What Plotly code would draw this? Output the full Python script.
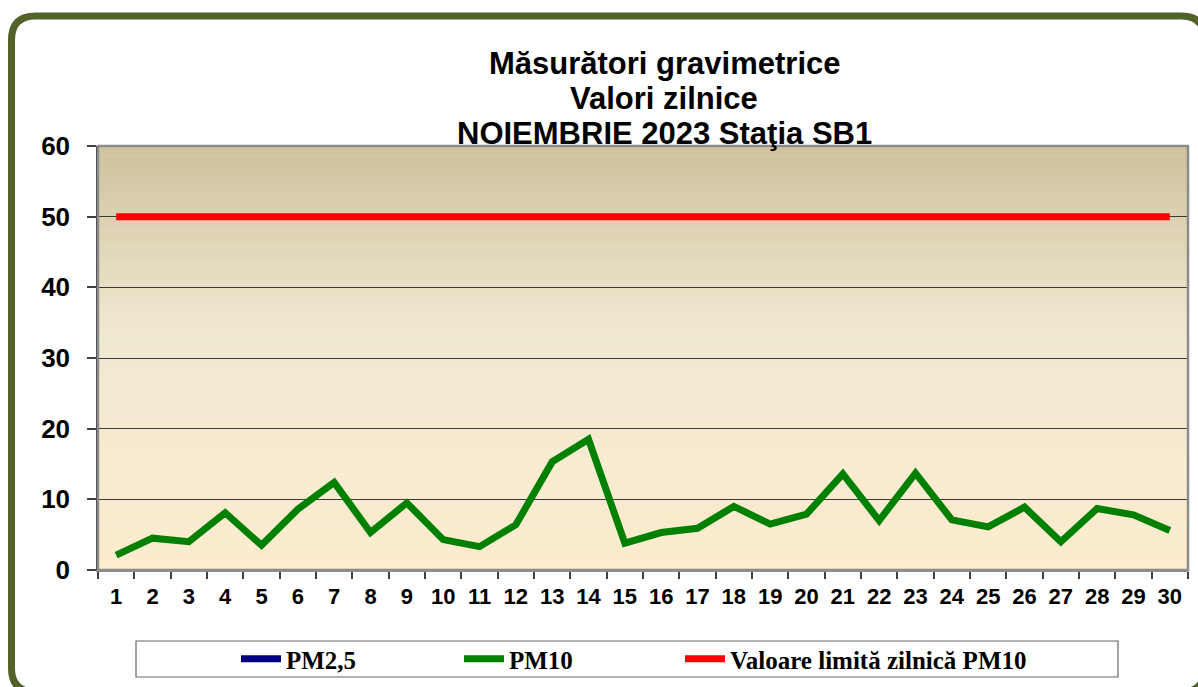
import plotly.graph_objects as go

days = [str(d) for d in range(1, 31)]
pm10 = [2.1, 4.5, 4.0, 8.1, 3.5, 8.6, 12.4, 5.3, 9.5, 4.3,
        3.3, 6.4, 15.3, 18.5, 3.8, 5.3, 5.9, 9.0, 6.5, 7.9,
        13.6, 7.0, 13.7, 7.1, 6.1, 8.9, 4.0, 8.7, 7.8, 5.6]
pm25 = [None] * 30
limit = [50] * 30
title_lines = ["Măsurători gravimetrice", "Valori zilnice", "NOIEMBRIE 2023 Staţia SB1"]
series_names = ["PM2,5", "PM10", "Valoare limită zilnică PM10"]

W, H = 1198, 687
L, R, T, B = 98, 1188, 146, 570


def px(x):
    return (x - L) / (R - L)


def py(y):
    return (B - y) / (B - T)


fig = go.Figure()
fig.add_trace(go.Scatter(x=days, y=pm25, name=series_names[0], mode="lines",
                         line=dict(color="#000080", width=7), showlegend=True, legend="legend"))
fig.add_trace(go.Scatter(x=days, y=pm10, name=series_names[1], mode="lines",
                         line=dict(color="#008000", width=7), legend="legend2"))
fig.add_trace(go.Scatter(x=days, y=limit, name=series_names[2], mode="lines",
                         line=dict(color="#FF0000", width=7), legend="legend3"))

shapes = []
# gradient background bands
stops = [(0.0, (207, 193, 156)), (0.45, (240, 233, 210)), (1.0, (253, 236, 206))]


def col(t):
    for i in range(len(stops) - 1):
        t0, c0 = stops[i]
        t1, c1 = stops[i + 1]
        if t0 <= t <= t1:
            f = (t - t0) / (t1 - t0)
            return "rgb(%d,%d,%d)" % tuple(round(c0[k] + (c1[k] - c0[k]) * f) for k in range(3))
    return "rgb(%d,%d,%d)" % stops[-1][1]


N = 80
for i in range(N):
    t = (i + 0.5) / N
    shapes.append(dict(type="rect", xref="paper", yref="paper", x0=0, x1=1,
                       y0=1 - (i + 1) / N, y1=1 - i / N + 0.001,
                       fillcolor=col(t), line=dict(width=0), layer="below"))
# plot frame
shapes.append(dict(type="rect", xref="paper", yref="paper", x0=0, x1=1, y0=0, y1=1,
                   line=dict(color="#8c8c8c", width=2.5), layer="above"))
# legend box
shapes.append(dict(type="rect", xref="paper", yref="paper",
                   x0=px(136), x1=px(1118), y0=py(677), y1=py(641),
                   fillcolor="white", line=dict(color="#666666", width=1.2)))
# outer rounded border
x0b, x1b, y0b, y1b, r = 11.5, 1205, 16, 692, 24
path = (f"M {px(x0b)},{py(y0b + r)} Q {px(x0b)},{py(y0b)} {px(x0b + r)},{py(y0b)} "
        f"L {px(x1b - r)},{py(y0b)} Q {px(x1b)},{py(y0b)} {px(x1b)},{py(y0b + r)} "
        f"L {px(x1b)},{py(y1b - r)} Q {px(x1b)},{py(y1b)} {px(x1b - r)},{py(y1b)} "
        f"L {px(x0b + r)},{py(y1b)} Q {px(x0b)},{py(y1b)} {px(x0b)},{py(y1b - r)} Z")
shapes.append(dict(type="path", xref="paper", yref="paper", path=path,
                   line=dict(color="#536228", width=7), layer="above"))

annotations = []
for i, txt in enumerate(title_lines):
    annotations.append(dict(text=txt, xref="paper", yref="paper", x=px(664), y=py(63 + 35 * i),
                            xanchor="center", yanchor="middle", showarrow=False,
                            font=dict(family="Liberation Sans", size=31, color="black", weight="bold")))

legend_font = dict(family="Liberation Serif", size=25, color="black", weight="bold")


def leg(xpix):
    return dict(orientation="h", x=px(xpix), y=py(659), xanchor="left", yanchor="middle",
                bgcolor="rgba(0,0,0,0)", borderwidth=0, itemwidth=40, font=legend_font)


fig.update_layout(
    width=W, height=H,
    margin=dict(l=L, r=W - R, t=T, b=H - B, autoexpand=False),
    paper_bgcolor="white", plot_bgcolor="rgba(0,0,0,0)",
    shapes=shapes, annotations=annotations,
    showlegend=True,
    legend=leg(236), legend2=leg(459), legend3=leg(680),
    xaxis=dict(type="category", range=[-0.5, 29.5], showgrid=False, ticks="outside",
               tickson="boundaries", ticklen=7, tickcolor="#404040", tickwidth=1.5,
               showline=True, linecolor="#8c8c8c", linewidth=2, ticklabelstandoff=6,
               automargin=False,
               tickfont=dict(family="Liberation Sans", size=22, color="black", weight="bold"),
               fixedrange=True),
    yaxis=dict(range=[0, 60], dtick=10, showgrid=True, gridcolor="#3a3a3a", gridwidth=1,
               ticks="outside", ticklen=9, tickcolor="#404040", tickwidth=1.5,
               showline=True, linecolor="#404040", linewidth=1.5, zeroline=False,
               ticklabelstandoff=12, automargin=False,
               tickfont=dict(family="Liberation Sans", size=26, color="black", weight="bold"),
               fixedrange=True),
)

fig.write_html("out.html", config={"displayModeBar": False},
               post_script="document.body.style.margin='0';document.body.style.overflow='hidden';")
